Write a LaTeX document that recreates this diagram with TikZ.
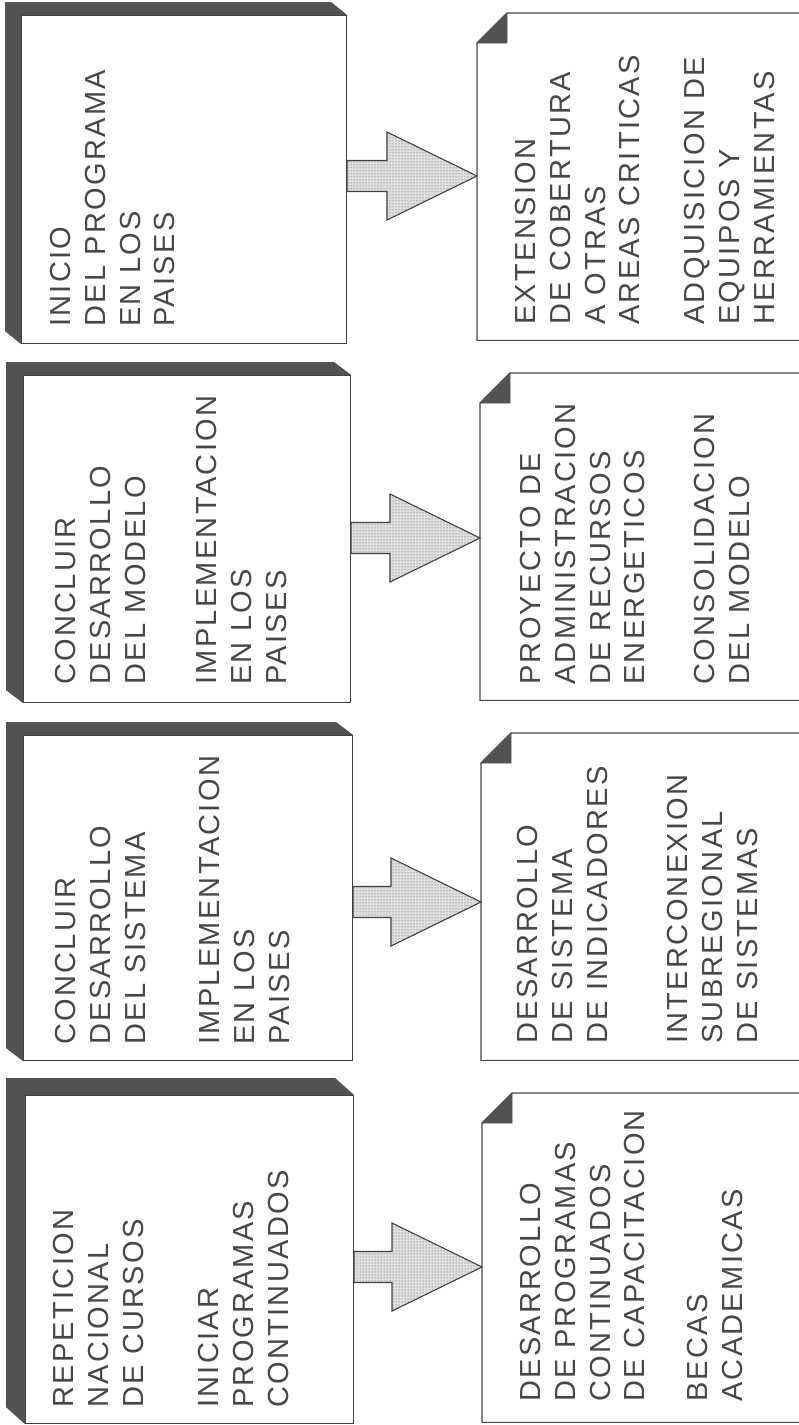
\documentclass[tikz,border=0pt]{standalone}
\usepackage{fontspec}
\setmainfont{Liberation Sans}
\newfontfamily\boxfont[LetterSpace=8]{Liberation Sans}
\usetikzlibrary{calc,patterns}
\newcommand\blockarrow[2]{%
  \path[arrowstyle] let \p1=(#1), \p2=(#2) in
    (\x1,\y1+15.5pt) -- (\x2-90pt,\y1+15.5pt) -- (\x2-90pt,\y1+44pt) -- (\x2,\y1)
    -- (\x2-90pt,\y1-44pt) -- (\x2-90pt,\y1-15.5pt) -- (\x1,\y1-15.5pt) -- cycle;}
\newcommand\boxshadow[3]{%
  \fill[shade3d] (#1.north east) -- ++(#2,#3) -- ($(#1.north west)+(#2,#3)$)
    -- ($(#1.south west)+(#2,#3)$) -- (#1.south west) -- (#1.north west) -- cycle;}
\newcommand\foldbox[1]{%
  \draw[rline] ($(#1.north west)+(30,0)$) -- (#1.north east) -- (#1.south east)
    -- (#1.south west) -- ($(#1.north west)+(0,30)$) -- cycle;
  \filldraw[fold] ($(#1.north west)+(0,30)$) -- ($(#1.north west)+(30,0)$)
    -- ($(#1.north west)+(30,30)$) -- cycle;}
\begin{document}
\begin{tikzpicture}[x=1pt,y=-1pt,
  face/.style={draw=black!75, line width=1.1pt, fill=white, inner sep=0pt, anchor=north west},
  shade3d/.style={fill=black!68},
  rbox/.style={inner sep=0pt, anchor=north west},
  rline/.style={draw=black!72, line width=1.1pt, fill=white},
  fold/.style={fill=black!68, draw=black!68, line width=0.6pt},
  arrowstyle/.style={preaction={fill=black!12}, pattern=dots, pattern color=black!70,
    draw=black!75, line width=1.1pt, line join=miter},
  txt/.style={rotate=90, anchor=north west, align=left, inner sep=0pt, text=black!72,
    font=\fontsize{29}{34.8}\boxfont}
]
\fill[white] (0,0) rectangle (799,1425);
\useasboundingbox (0,0) rectangle (799,1425);
\clip (0,0) rectangle (799,1425);

% left boxes (3D)
\node[face, minimum width=325pt, minimum height=328pt] (L1) at (21,15) {};
\node[face, minimum width=327pt, minimum height=327pt] (L2) at (23,375) {};
\node[face, minimum width=329pt, minimum height=325pt] (L3) at (23,735) {};
\node[face, minimum width=328pt, minimum height=328pt] (L4) at (25,1095) {};
\boxshadow{L1}{-16}{-13}
\boxshadow{L2}{-17}{-13}
\boxshadow{L3}{-17}{-13}
\boxshadow{L4}{-19}{-17}

% right boxes (folded corner)
\node[rbox, minimum width=330pt, minimum height=327pt] (R1) at (477,13) {};
\node[rbox, minimum width=330pt, minimum height=327pt] (R2) at (480,373) {};
\node[rbox, minimum width=330pt, minimum height=327pt] (R3) at (481,733) {};
\node[rbox, minimum width=330pt, minimum height=329pt] (R4) at (482,1093) {};
\foldbox{R1}
\foldbox{R2}
\foldbox{R3}
\foldbox{R4}

% arrows
\coordinate (ya1) at (0,176);
\coordinate (ya2) at (0,538);
\coordinate (ya3) at (0,902);
\coordinate (ya4) at (0,1267);
\blockarrow{L1.east |- ya1}{R1.west |- ya1}
\blockarrow{L2.east |- ya2}{R2.west |- ya2}
\blockarrow{L3.east |- ya3}{R3.west |- ya3}
\blockarrow{L4.east |- ya4}{R4.west |- ya4}

% texts
\node[txt] (tL1) at (50,327) {INICIO\\DEL PROGRAMA\\EN LOS\\PAISES};
\node[txt] (tR1) at (515,325) {EXTENSION\\DE COBERTURA\\A OTRAS\\AREAS CRITICAS\\[30pt]ADQUISICION DE\\EQUIPOS Y\\HERRAMIENTAS};
\node[txt] (tL2) at (55,685) {CONCLUIR\\DESARROLLO\\DEL MODELO\\[37pt]IMPLEMENTACION\\EN LOS\\PAISES};
\node[txt] (tR2) at (520,685) {PROYECTO DE\\ADMINISTRACION\\DE RECURSOS\\ENERGETICOS\\[35pt]CONSOLIDACION\\DEL MODELO};
\node[txt] (tL3) at (55,1045) {CONCLUIR\\DESARROLLO\\DEL SISTEMA\\[40pt]IMPLEMENTACION\\EN LOS\\PAISES};
\node[txt] (tR3) at (517,1044) {DESARROLLO\\DE SISTEMA\\DE INDICADORES\\[46pt]INTERCONEXION\\SUBREGIONAL\\DE SISTEMAS};
\node[txt] (tL4) at (53,1408) {REPETICION\\NACIONAL\\DE CURSOS\\[41pt]INICIAR\\PROGRAMAS\\CONTINUADOS};
\node[txt] (tR4) at (520,1402) {DESARROLLO\\DE PROGRAMAS\\CONTINUADOS\\DE CAPACITACION\\[28pt]BECAS\\ACADEMICAS};
\end{tikzpicture}
\end{document}
